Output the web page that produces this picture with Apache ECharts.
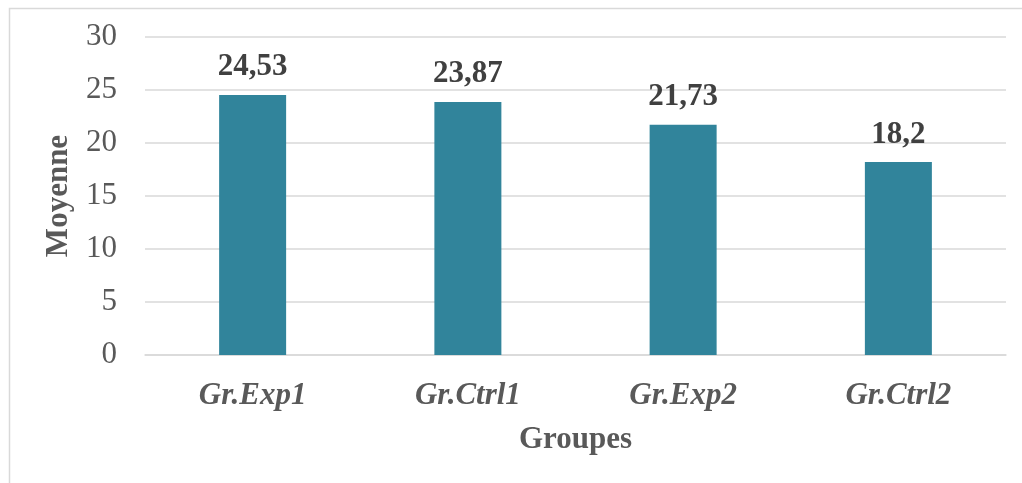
<!DOCTYPE html>
<html>
<head>
<meta charset="utf-8">
<script src="https://cdn.jsdelivr.net/npm/echarts@6/dist/echarts.min.js"></script>
<style>html,body{margin:0;padding:0;background:#fff}#c{width:1022px;height:483px}</style>
</head>
<body>
<div id="c"></div>
<script>
const categories = ['Gr.Exp1', 'Gr.Ctrl1', 'Gr.Exp2', 'Gr.Ctrl2'];
const values = [24.53, 23.87, 21.73, 18.2];
const yTicks = [0, 5, 10, 15, 20, 25, 30];

const chart = echarts.init(document.getElementById('c'));
const serif = '"Liberation Serif", "DejaVu Serif", serif';
chart.setOption({
  animation: false,
  graphic: [{
    type: 'rect', left: 7, top: 6,
    shape: { width: 1040, height: 500 },
    style: { fill: 'none', stroke: '#d9d9d9', lineWidth: 1.5 },
    silent: true, z: -1
  }],
  grid: { left: 145, right: 16, top: 37, bottom: 128, containLabel: false },
  xAxis: {
    type: 'category',
    data: categories,
    axisTick: { show: false },
    axisLine: { show: true, lineStyle: { color: '#d9d9d9', width: 1.5 } },
    axisLabel: { color: '#595959', fontFamily: serif, fontSize: 31, fontWeight: 'bold', fontStyle: 'italic', margin: 25 },
    name: 'Groupes',
    nameLocation: 'middle',
    nameGap: 69,
    nameTextStyle: { color: '#595959', fontFamily: serif, fontSize: 31, fontWeight: 'bold' }
  },
  yAxis: {
    type: 'value',
    min: yTicks[0], max: yTicks[yTicks.length - 1], interval: 5,
    axisLine: { show: false },
    axisTick: { show: false },
    splitLine: { lineStyle: { color: '#d9d9d9', width: 1.5 } },
    axisLabel: { color: '#595959', fontFamily: serif, fontSize: 31, margin: 28 },
    name: 'Moyenne',
    nameLocation: 'middle',
    nameGap: 71,
    nameTextStyle: { color: '#595959', fontFamily: serif, fontSize: 31, fontWeight: 'bold' }
  },
  series: [{
    type: 'bar',
    data: values,
    barWidth: 67,
    itemStyle: { color: '#31849b' },
    label: {
      show: true, position: 'top', distance: 12,
      color: '#404040', fontFamily: serif, fontSize: 31, fontWeight: 'bold',
      formatter: p => String(p.value).replace('.', ',')
    }
  }]
});
</script>
</body>
</html>
